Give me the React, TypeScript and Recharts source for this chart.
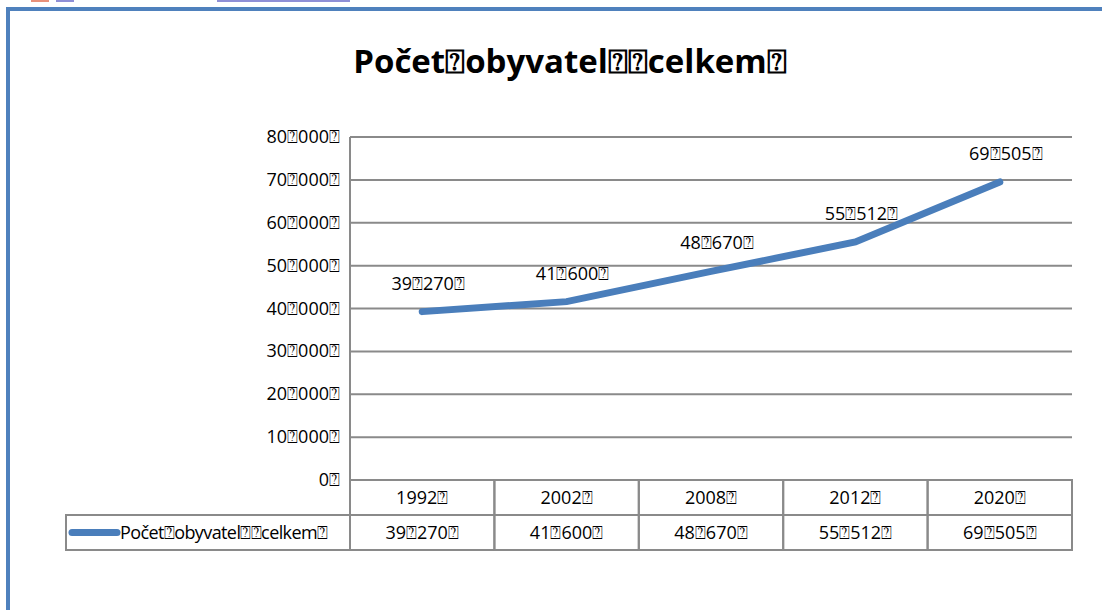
import React from "react";
import { LineChart, Line, XAxis, YAxis, CartesianGrid, LabelList } from "recharts";

const T = "\u2370"; // stands in for the unrenderable characters seen in the source
const title = `Počet${T}obyvatel${T}${T}celkem${T}`;
const seriesName = `Počet${T}obyvatel${T}${T}celkem${T}`;
const categories = ["1992", "2002", "2008", "2012", "2020"];
const population = [39270, 41600, 48670, 55512, 69505];
const yTicks = [0, 10000, 20000, 30000, 40000, 50000, 60000, 70000, 80000];

const fmt = (v: number) => {
  if (v === 0) return `0${T}`;
  const s = String(v);
  return `${s.slice(0, s.length - 3)}${T}${s.slice(s.length - 3)}${T}`;
};

const data = categories.map((c, i) => ({ year: c, value: population[i] }));

const W = 1102;
const H = 610;
const M = { top: 137, right: 30, bottom: 0, left: 0 };
const XH = 130;
const YW = 350;
const BAND = (W - M.right - M.left - YW) / categories.length;
const ROW = 35;
const GRAY = "#8a8a8a";
const BLUE = "#4A7EBB";
const FONT = "'Open Sans', 'Noto Sans', sans-serif";

const YTick = (p: any) => (
  <text x={p.x} y={p.y} dy={6} textAnchor="end" fontSize={18} fill="#000" fontFamily={FONT}>
    {fmt(p.payload.value)}
  </text>
);

const XTick = (p: any) => {
  const i = p.index;
  const x0 = p.x - BAND / 2;
  const y0 = p.y;
  return (
    <g>
      <rect x={x0} y={y0} width={BAND} height={ROW} fill="none" stroke={GRAY} strokeWidth={2} />
      <rect x={x0} y={y0 + ROW} width={BAND} height={ROW} fill="none" stroke={GRAY} strokeWidth={2} />
      <text x={p.x} y={y0 + ROW / 2} dy={6} textAnchor="middle" fontSize={18} fontFamily={FONT} fill="#000">
        {p.payload.value}{T}
      </text>
      <text x={p.x} y={y0 + ROW * 1.5} dy={6} textAnchor="middle" fontSize={18} fontFamily={FONT} fill="#000">
        {fmt(population[i])}
      </text>
      {i === 0 && (
        <g>
          <rect x={66} y={y0 + ROW} width={x0 - 66} height={ROW} fill="none" stroke={GRAY} strokeWidth={2} />
          <line x1={72} x2={117} y1={y0 + ROW * 1.5} y2={y0 + ROW * 1.5} stroke={BLUE} strokeWidth={7} strokeLinecap="round" />
          <text x={120} y={y0 + ROW * 1.5} dy={6} fontSize={18} fontFamily={FONT} fill="#000" letterSpacing={-0.6}>
            {seriesName}
          </text>
        </g>
      )}
    </g>
  );
};

const ValueLabel = (p: any) => (
  <text x={p.x + 6} y={p.y - 22} textAnchor="middle" fontSize={18} fontFamily={FONT} fill="#000">
    {fmt(p.value)}
  </text>
);

export default function App() {
  return (
    <div style={{ position: "absolute", left: 0, top: 0, width: W, height: H, background: "#fff", overflow: "hidden" }}>
      <div style={{ position: "absolute", left: 31, top: 0, width: 18, height: 2, background: "#e8917a" }} />
      <div style={{ position: "absolute", left: 56, top: 0, width: 18, height: 2, background: "#8f8fd6" }} />
      <div style={{ position: "absolute", left: 217, top: 0, width: 133, height: 2, background: "#8f8fd6" }} />
      <div style={{ position: "absolute", left: 6, top: 7, width: W, height: H, borderLeft: "4px solid #4F81BD", borderTop: "4px solid #4F81BD", boxSizing: "border-box" }} />
      <div
        style={{
          position: "absolute",
          left: 0,
          width: 1140,
          top: 38,
          textAlign: "center",
          fontFamily: FONT,
          fontWeight: 700,
          fontSize: 33,
          color: "#000",
        }}
      >
        {title}
      </div>
      <div style={{ position: "absolute", left: 0, top: 0 }}>
        <LineChart width={W} height={H} data={data} margin={M}>
          <CartesianGrid horizontal vertical={false} stroke={GRAY} strokeWidth={2} />
          <XAxis
            dataKey="year"
            axisLine={false}
            tickLine={false}
            tickSize={0}
            tickMargin={0}
            height={XH}
            interval={0}
            padding={{ left: BAND / 2, right: BAND / 2 }}
            tick={<XTick />}
          />
          <YAxis
            width={YW}
            domain={[0, 80000]}
            ticks={yTicks}
            axisLine={{ stroke: GRAY, strokeWidth: 2 }}
            tickLine={false}
            tickSize={0}
            tickMargin={10}
            tick={<YTick />}
            interval={0}
          />
          <Line
            type="linear"
            dataKey="value"
            stroke={BLUE}
            strokeWidth={7}
            strokeLinecap="round"
            dot={false}
            isAnimationActive={false}
          >
            <LabelList dataKey="value" content={<ValueLabel />} />
          </Line>
        </LineChart>
      </div>
    </div>
  );
}
